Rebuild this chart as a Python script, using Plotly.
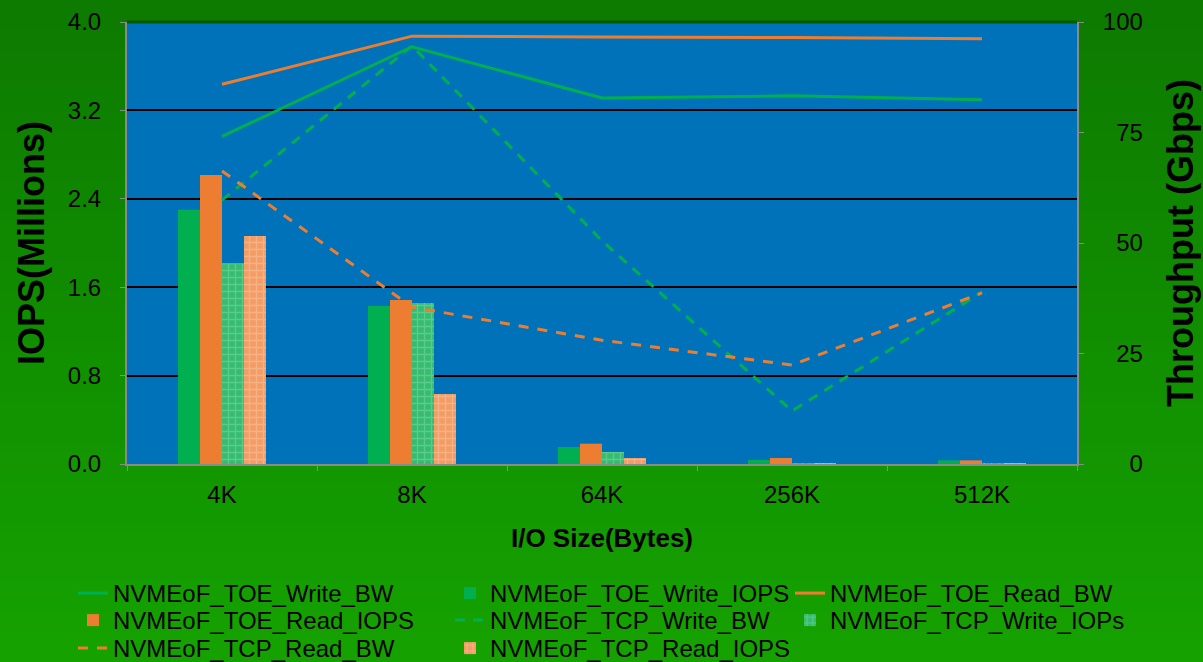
import plotly.graph_objects as go

# I/O sizes tested
categories = ["4K", "8K", "64K", "256K", "512K"]

# IOPS (millions), left axis
toe_write_iops = [2.30, 1.43, 0.154, 0.036, 0.033]
toe_read_iops = [2.615, 1.484, 0.184, 0.054, 0.033]
tcp_write_iops = [1.816, 1.457, 0.109, 0.005, 0.009]
tcp_read_iops = [2.063, 0.633, 0.054, 0.005, 0.009]

# Throughput (Gbps), right axis
toe_write_bw = [74.1, 94.4, 82.8, 83.3, 82.4]
toe_read_bw = [85.9, 96.8, 96.6, 96.5, 96.2]
tcp_write_bw = [59.7, 94.6, 50.5, 12.0, 38.9]
tcp_read_bw = [66.3, 35.5, 28.0, 22.4, 38.7]

left_ticks = [0.0, 0.8, 1.6, 2.4, 3.2, 4.0]
right_ticks = [0, 25, 50, 75, 100]

GREEN = "#00b050"
ORANGE = "#ed7d31"
FONT = "Liberation Sans, Arial, sans-serif"

W, H = 1203, 662
ML, MR, MT, MB = 127, 126, 22, 198
pw, ph = W - ML - MR, H - MT - MB

# legend grid: one legend box per entry, laid out in 3 columns x 3 rows
LEG_COL_TEXT_X = [113, 490, 830]
LEG_ROW_MID_Y = [594, 621, 649]
legend_ids = ["legend", "legend2", "legend3", "legend4",
              "legend5", "legend6", "legend7", "legend8"]

fig = go.Figure()

fig.add_trace(go.Scatter(x=categories, y=toe_write_bw, name="NVMEoF_TOE_Write_BW",
                         mode="lines", line=dict(color=GREEN, width=3), yaxis="y2"))
fig.add_trace(go.Bar(x=categories, y=toe_write_iops, name="NVMEoF_TOE_Write_IOPS",
                     marker=dict(color=GREEN, line=dict(width=0))))
fig.add_trace(go.Scatter(x=categories, y=toe_read_bw, name="NVMEoF_TOE_Read_BW",
                         mode="lines", line=dict(color=ORANGE, width=3), yaxis="y2"))
fig.add_trace(go.Bar(x=categories, y=toe_read_iops, name="NVMEoF_TOE_Read_IOPS",
                     marker=dict(color=ORANGE, line=dict(width=0))))
fig.add_trace(go.Scatter(x=categories, y=tcp_write_bw, name="NVMEoF_TCP_Write_BW",
                         mode="lines", line=dict(color=GREEN, width=3, dash="10px,8px"),
                         yaxis="y2"))
fig.add_trace(go.Bar(x=categories, y=tcp_write_iops, name="NVMEoF_TCP_Write_IOPs",
                     marker=dict(color="#36bb70", line=dict(width=0),
                                 pattern=dict(shape="+", size=7, solidity=0.35,
                                              fgcolor="#7fdca6", bgcolor="#36bb70"))))
fig.add_trace(go.Scatter(x=categories, y=tcp_read_bw, name="NVMEoF_TCP_Read_BW",
                         mode="lines", line=dict(color=ORANGE, width=3, dash="10px,9px"),
                         yaxis="y2"))
fig.add_trace(go.Bar(x=categories, y=tcp_read_iops, name="NVMEoF_TCP_Read_IOPS",
                     marker=dict(color="#f29c66", line=dict(width=0),
                                 pattern=dict(shape="+", size=7, solidity=0.35,
                                              fgcolor="#f9c7a2", bgcolor="#f29c66"))))

legend_layout = {}
for i, trace in enumerate(fig.data):
    trace.legend = legend_ids[i]
    row, col = divmod(i, 3)
    legend_layout[legend_ids[i]] = dict(
        orientation="h", xanchor="left", yanchor="top",
        x=(LEG_COL_TEXT_X[col] - 40 - ML) / pw,
        y=(H - MB - (LEG_ROW_MID_Y[row] - 23)) / ph,
        bgcolor="rgba(0,0,0,0)", font=dict(size=24, family=FONT, color="black"),
        itemwidth=30,
    )

# vertical green gradient behind everything, then the blue plotting area
shapes = []
n = 66
top_c, bot_c = (13, 122, 0), (21, 162, 0)
for i in range(n):
    t = i / (n - 1)
    c = tuple(round(top_c[k] + (bot_c[k] - top_c[k]) * t) for k in range(3))
    y_hi = H - i * H / n
    y_lo = H - (i + 1) * H / n - 1
    shapes.append(dict(type="rect", xref="paper", yref="paper", layer="below",
                       x0=-ML / pw, x1=(W - ML) / pw,
                       y0=(y_lo - MB) / ph, y1=(y_hi - MB) / ph,
                       line=dict(width=0), fillcolor="rgb(%d,%d,%d)" % c))
shapes.append(dict(type="rect", xref="paper", yref="paper", layer="below",
                   x0=0, x1=1, y0=0, y1=1, line=dict(width=0), fillcolor="#0072b9"))
shapes.append(dict(type="line", xref="paper", yref="paper", x0=0, x1=1, y0=1, y1=1,
                   line=dict(color="#005a00", width=3)))

# right-hand tick labels padded so they line up on the right
nb = "\u00a0"
right_text = [nb * 2 * (3 - len(str(v))) + str(v) for v in right_ticks]

fig.update_layout(
    width=W, height=H,
    margin=dict(l=ML, r=MR, t=MT, b=MB, autoexpand=False),
    paper_bgcolor="rgb(17,142,0)",
    plot_bgcolor="rgba(0,0,0,0)",
    font=dict(family=FONT, color="black", size=24),
    barmode="group", bargap=0.537, bargroupgap=0,
    shapes=shapes,
    showlegend=True,
    xaxis=dict(type="category", showline=True, linecolor="#8a8a8a", linewidth=2,
               ticks="outside", tickson="boundaries", ticklen=5, tickcolor="#8a8a8a",
               tickfont=dict(size=24), ticklabelstandoff=8, showgrid=False,
               title=dict(text="I/O Size(Bytes)", font=dict(size=26, weight="bold"),
                          standoff=22)),
    yaxis=dict(range=[0, 4], tickvals=left_ticks, ticktext=["%.1f" % v for v in left_ticks],
               showgrid=True, gridcolor="black", gridwidth=1.5, zeroline=False,
               showline=True, linecolor="#8a8a8a", linewidth=2, ticks="outside",
               ticklen=5, tickcolor="#8a8a8a", ticklabelstandoff=14,
               title=dict(text="IOPS(Millions)", font=dict(size=36, weight="bold"),
                          standoff=12)),
    yaxis2=dict(range=[0, 100], overlaying="y", side="right", tickvals=right_ticks,
                ticktext=right_text, showgrid=False, zeroline=False,
                showline=True, linecolor="#8a8a8a", linewidth=2, ticks="outside",
                ticklen=5, tickcolor="#8a8a8a", ticklabelstandoff=14,
                title=dict(text="Throughput (Gbps)", font=dict(size=36, weight="bold"),
                           standoff=26)),
    **legend_layout,
)

fig.write_html("out.html")
